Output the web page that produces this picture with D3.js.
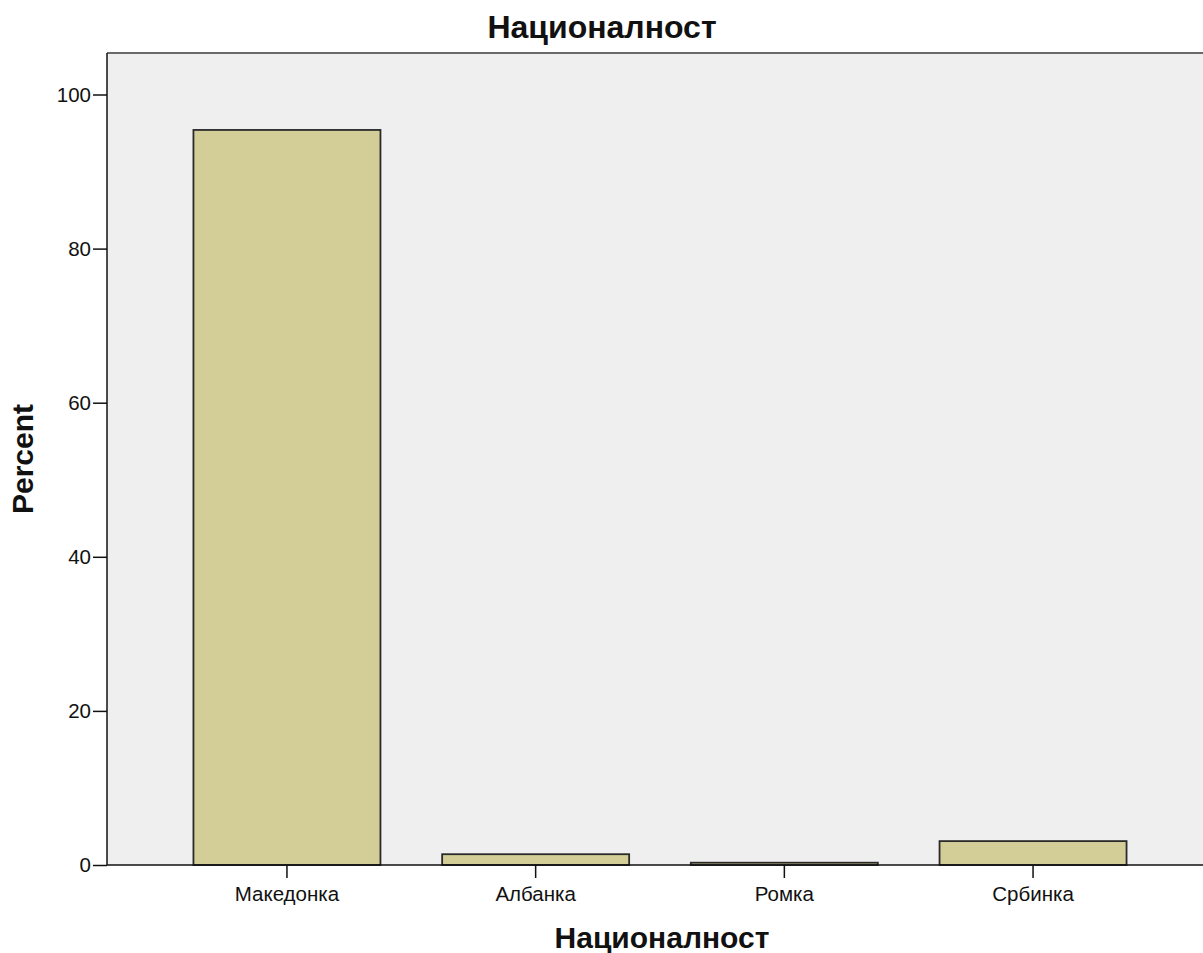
<!DOCTYPE html>
<meta charset="utf-8">
<style>
body { margin: 0; background: #fff; }
text { font-family: Arial, "Liberation Sans", sans-serif; fill: #111; }
.tick text { font-size: 20.5px; }
.title { font-weight: bold; }
</style>
<svg width="1203" height="953"></svg>
<script src="https://d3js.org/d3.v7.min.js"></script>
<script>

var categories = ["Македонка", "Албанка", "Ромка", "Србинка"];
var percents = [95.4, 1.4, 0.3, 3.1];
var yTicks = [0, 20, 40, 60, 80, 100];

var svg = d3.select("svg"),
    plotLeft = 107, plotTop = 53, plotRight = 1215, plotBottom = 865;

var x = d3.scaleBand()
    .domain(categories)
    .range([162.6, 1157.4])
    .paddingInner(0.248)
    .paddingOuter(0.124);

var y = d3.scaleLinear()
    .domain([0, 100])
    .range([plotBottom, 94.5]);

// plot background
svg.append("rect")
    .attr("x", plotLeft)
    .attr("y", plotTop)
    .attr("width", plotRight - plotLeft)
    .attr("height", plotBottom - plotTop)
    .attr("fill", "#efefef");

svg.append("line")
    .attr("x1", plotLeft).attr("x2", plotRight)
    .attr("y1", plotTop).attr("y2", plotTop)
    .attr("stroke", "#6a6a6a")
    .attr("stroke-width", 2);

var bw = 187;
svg.append("g")
  .selectAll("rect")
  .data(categories)
  .enter().append("rect")
    .attr("x", function(d) { return x(d) + x.bandwidth() / 2 - bw / 2; })
    .attr("y", function(d, i) { return y(percents[i]); })
    .attr("width", bw)
    .attr("height", function(d, i) { return plotBottom - y(percents[i]); })
    .attr("fill", "#d3ce98")
    .attr("stroke", "#2a2a2a")
    .attr("stroke-width", 1.8);

var yAxis = svg.append("g")
    .attr("transform", "translate(" + plotLeft + ",0)")
    .call(d3.axisLeft(y).tickValues(yTicks).tickSize(14).tickPadding(2).tickFormat(d3.format("d")));

var xAxis = svg.append("g")
    .attr("transform", "translate(0," + plotBottom + ")")
    .call(d3.axisBottom(x).tickSize(13).tickPadding(8));

yAxis.select(".domain").remove();
xAxis.select(".domain").remove();
yAxis.selectAll("line").attr("stroke", "#111").attr("stroke-width", 1.5);
xAxis.selectAll("line").attr("stroke", "#111").attr("stroke-width", 1.5);
yAxis.selectAll("text").attr("fill", "#111");
xAxis.selectAll("text").attr("fill", "#111");

svg.append("line")
    .attr("x1", plotLeft).attr("x2", plotLeft)
    .attr("y1", plotTop).attr("y2", plotBottom)
    .attr("stroke", "#111").attr("stroke-width", 1.5);
svg.append("line")
    .attr("x1", plotLeft).attr("x2", plotRight)
    .attr("y1", plotBottom).attr("y2", plotBottom)
    .attr("stroke", "#111").attr("stroke-width", 1.5);

svg.append("text")
    .attr("class", "title")
    .attr("x", 602)
    .attr("y", 38)
    .attr("text-anchor", "middle")
    .style("font-size", "32px")
    .text("Националност");

svg.append("text")
    .attr("class", "title")
    .attr("x", 662)
    .attr("y", 948)
    .attr("text-anchor", "middle")
    .style("font-size", "30px")
    .text("Националност");

svg.append("text")
    .attr("class", "title")
    .attr("transform", "translate(33," + (plotTop + plotBottom) / 2 + ") rotate(-90)")
    .attr("text-anchor", "middle")
    .style("font-size", "30px")
    .text("Percent");

</script>
